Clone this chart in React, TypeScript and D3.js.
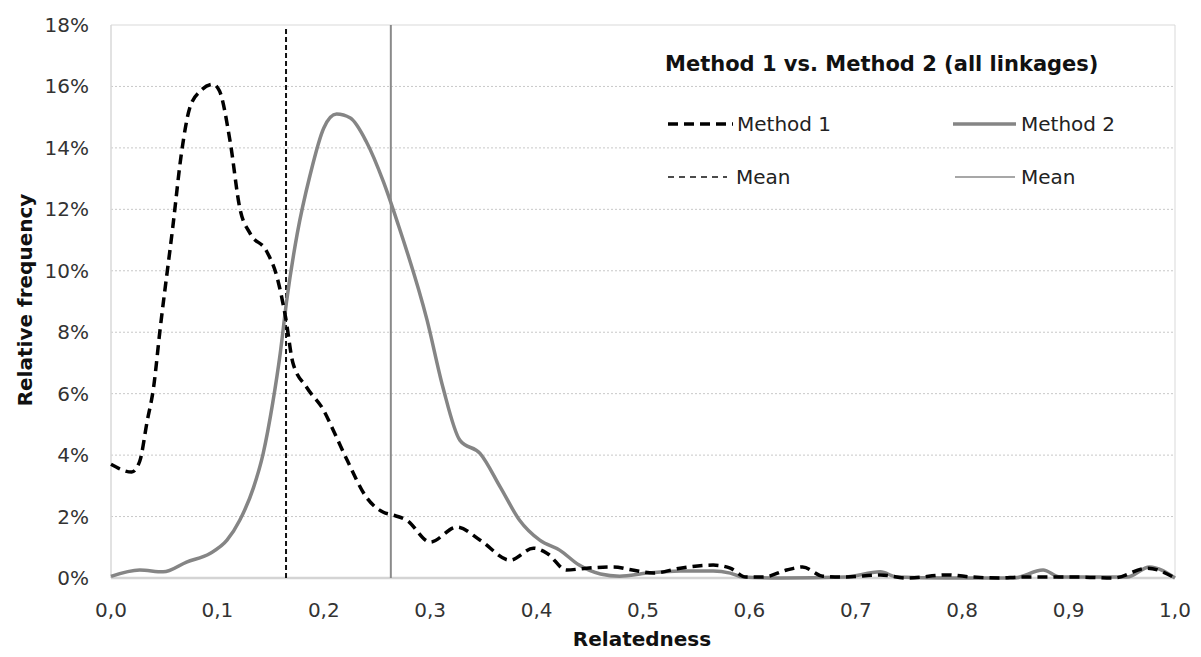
import { useMemo } from "react";
import * as d3 from "d3";

// relatedness / relative frequency (%)
const method1X = [0, 0.0195, 0.027, 0.034, 0.04, 0.046, 0.058, 0.0665, 0.074, 0.084, 0.096, 0.102, 0.112, 0.121, 0.131, 0.146, 0.156, 0.164, 0.171, 0.184, 0.2, 0.209, 0.222, 0.24, 0.256, 0.265, 0.278, 0.3, 0.325, 0.347, 0.375, 0.397, 0.41, 0.428, 0.447, 0.472, 0.49, 0.51, 0.535, 0.566, 0.582, 0.597, 0.613, 0.635, 0.65, 0.669, 0.69, 0.723, 0.748, 0.786, 0.81, 0.836, 0.854, 0.876, 0.91, 0.942, 0.974, 1.0];
const method1Y = [3.7, 3.45, 3.8, 5.1, 6.2, 8.05, 11.4, 13.9, 15.3, 15.85, 16.07, 15.85, 14.2, 12.05, 11.2, 10.65, 9.8, 8.5, 7.0, 6.2, 5.45, 4.8, 3.83, 2.63, 2.14, 2.05, 1.88, 1.17, 1.66, 1.23, 0.58, 0.97, 0.8, 0.26, 0.32, 0.36, 0.26, 0.16, 0.32, 0.42, 0.32, 0.03, 0.03, 0.26, 0.36, 0.06, 0.03, 0.1, 0.0, 0.1, 0.03, 0.0, 0.03, 0.03, 0.03, 0.0, 0.32, 0.0];

const method2X = [0, 0.027, 0.049, 0.071, 0.093, 0.109, 0.121, 0.134, 0.143, 0.152, 0.159, 0.165, 0.175, 0.187, 0.2, 0.212, 0.225, 0.24, 0.256, 0.269, 0.297, 0.312, 0.328, 0.347, 0.366, 0.384, 0.403, 0.422, 0.44, 0.46, 0.478, 0.504, 0.535, 0.566, 0.582, 0.594, 0.629, 0.69, 0.723, 0.739, 0.786, 0.848, 0.876, 0.892, 0.955, 0.976, 1.0];
const method2Y = [0.05, 0.26, 0.2, 0.52, 0.8, 1.23, 1.88, 2.95, 4.05, 5.7, 7.3, 9.0, 11.2, 13.1, 14.65, 15.1, 14.97, 14.2, 12.9, 11.6, 8.4, 6.2, 4.48, 4.05, 2.95, 1.88, 1.23, 0.9, 0.42, 0.13, 0.06, 0.16, 0.23, 0.23, 0.16, 0.03, 0.0, 0.03, 0.2, 0.03, 0.0, 0.0, 0.26, 0.03, 0.03, 0.36, 0.0];

const means = [0.1645, 0.263];
const yTicks = [0, 2, 4, 6, 8, 10, 12, 14, 16, 18];
const xTicks = [0, 0.1, 0.2, 0.3, 0.4, 0.5, 0.6, 0.7, 0.8, 0.9, 1.0];

const width = 1201,
  height = 657;
const MARGIN = { top: 25, right: 26, bottom: 79, left: 111 };
const FONT = "DejaVu Sans, Verdana, sans-serif";

const App = () => {
  const boundsWidth = width - MARGIN.left - MARGIN.right;
  const boundsHeight = height - MARGIN.top - MARGIN.bottom;

  const xScale = useMemo(
    () => d3.scaleLinear().domain([0, 1]).range([0, boundsWidth]),
    [boundsWidth]
  );
  const yScale = useMemo(
    () => d3.scaleLinear().domain([0, 18]).range([boundsHeight, 0]),
    [boundsHeight]
  );

  const line = d3
    .line<[number, number]>()
    .x((d) => xScale(d[0]))
    .y((d) => yScale(d[1]))
    .curve(d3.curveMonotoneX);

  const path1 = line(method1X.map((x, i) => [x, method1Y[i]]));
  const path2 = line(method2X.map((x, i) => [x, method2Y[i]]));

  return (
    <svg
      width={width}
      height={height}
      style={{ position: "absolute", left: 0, top: 0, background: "#fff" }}
      fontFamily={FONT}
    >
      <g transform={`translate(${MARGIN.left},${MARGIN.top})`}>
        {/* grid */}
        {yTicks.map((t) => (
          <g key={t}>
            {t > 0 && t < 18 && (
              <line
                x1={0}
                x2={boundsWidth}
                y1={yScale(t)}
                y2={yScale(t)}
                stroke="#c8c8c8"
                strokeDasharray="2,2"
              />
            )}
            <text
              x={-22}
              y={yScale(t)}
              textAnchor="end"
              dominantBaseline="central"
              fontSize={20}
              fill="#333"
            >
              {t}%
            </text>
          </g>
        ))}
        {/* frame */}
        <line x1={0} x2={boundsWidth} y1={0} y2={0} stroke="#d9d9d9" />
        <line x1={boundsWidth} x2={boundsWidth} y1={0} y2={boundsHeight} stroke="#d9d9d9" />
        <line x1={0} x2={0} y1={0} y2={boundsHeight} stroke="#d9d9d9" strokeWidth={1.5} />
        <line x1={0} x2={boundsWidth} y1={boundsHeight} y2={boundsHeight} stroke="#d4d4d4" strokeWidth={2.5} />

        {xTicks.map((t) => (
          <text
            key={t}
            x={xScale(t)}
            y={boundsHeight + 39}
            textAnchor="middle"
            fontSize={20}
            fill="#333"
          >
            {t.toFixed(1).replace(".", ",")}
          </text>
        ))}

        {/* mean lines */}
        <line
          x1={xScale(means[0])}
          x2={xScale(means[0])}
          y1={4}
          y2={boundsHeight}
          stroke="#111"
          strokeWidth={2}
          strokeDasharray="5,3"
        />
        <line
          x1={xScale(means[1])}
          x2={xScale(means[1])}
          y1={0}
          y2={boundsHeight}
          stroke="#8a8a8a"
          strokeWidth={2}
        />

        {/* series */}
        <path d={path2 || ""} fill="none" stroke="#858585" strokeWidth={3.5} />
        <path
          d={path1 || ""}
          fill="none"
          stroke="#000"
          strokeWidth={3.5}
          strokeDasharray="10,6"
        />
      </g>

      {/* axis titles */}
      <text x={642} y={646} textAnchor="middle" fontSize={20} fontWeight="bold" fill="#111">
        Relatedness
      </text>
      <text
        transform="translate(32,300) rotate(-90)"
        textAnchor="middle"
        fontSize={20}
        fontWeight="bold"
        fill="#111"
      >
        Relative frequency
      </text>

      {/* legend */}
      <text x={665} y={71} fontSize={21} fontWeight="bold" fill="#111">
        Method 1 vs. Method 2 (all linkages)
      </text>
      <line x1={668} x2={733} y1={124} y2={124} stroke="#000" strokeWidth={3.5} strokeDasharray="10,6" />
      <text x={737} y={124} dominantBaseline="central" fontSize={20} fill="#222">
        Method 1
      </text>
      <line x1={953} x2={1016} y1={124} y2={124} stroke="#858585" strokeWidth={3.5} />
      <text x={1021} y={124} dominantBaseline="central" fontSize={20} fill="#222">
        Method 2
      </text>
      <line x1={668} x2={727} y1={177} y2={177} stroke="#111" strokeWidth={1.5} strokeDasharray="6,5" />
      <text x={736} y={177} dominantBaseline="central" fontSize={20} fill="#222">
        Mean
      </text>
      <line x1={955} x2={1015} y1={177} y2={177} stroke="#8a8a8a" strokeWidth={1.5} />
      <text x={1021} y={177} dominantBaseline="central" fontSize={20} fill="#222">
        Mean
      </text>
    </svg>
  );
};

export default App;
